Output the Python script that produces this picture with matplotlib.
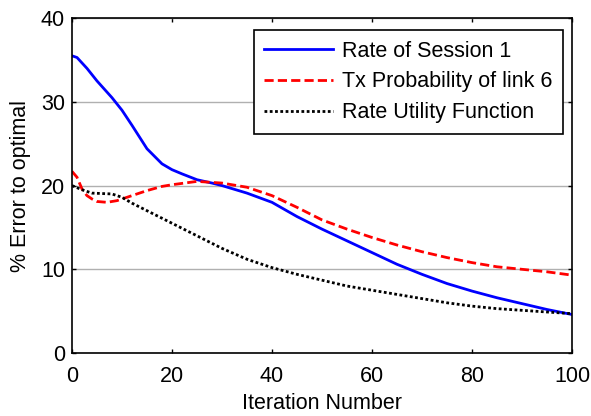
import matplotlib
matplotlib.use("Agg")
import matplotlib.pyplot as plt

plt.rcParams['font.family'] = ['Liberation Sans', 'DejaVu Sans']

blue_x = [0, 1, 3, 5, 8, 10, 12, 15, 18, 20, 22, 25, 28, 30, 35, 40, 45, 50, 55, 60, 65, 70, 75, 80, 85, 90, 95, 100]
blue_y = [35.5, 35.3, 34.0, 32.5, 30.5, 29.0, 27.2, 24.4, 22.6, 21.9, 21.4, 20.7, 20.3, 20.0, 19.1, 18.0, 16.3, 14.8, 13.4, 12.0, 10.6, 9.4, 8.3, 7.4, 6.6, 5.9, 5.2, 4.6]

red_x = [0, 1, 2, 3, 4, 5, 7, 9, 12, 15, 18, 20, 25, 30, 35, 40, 45, 50, 55, 60, 65, 70, 75, 80, 85, 90, 95, 100]
red_y = [21.7, 21.0, 19.6, 18.8, 18.4, 18.1, 18.0, 18.2, 18.8, 19.4, 19.9, 20.1, 20.5, 20.3, 19.8, 18.8, 17.4, 15.9, 14.8, 13.8, 12.9, 12.1, 11.4, 10.8, 10.3, 10.0, 9.7, 9.3]

black_x = [0, 2, 4, 8, 10, 12, 15, 20, 25, 30, 35, 40, 45, 50, 55, 60, 65, 70, 75, 80, 85, 90, 95, 100]
black_y = [20.0, 19.5, 19.1, 19.0, 18.6, 17.9, 17.0, 15.5, 14.0, 12.5, 11.2, 10.2, 9.4, 8.7, 8.0, 7.5, 7.0, 6.5, 6.0, 5.6, 5.3, 5.1, 4.9, 4.7]

labels = ["Rate of Session 1", "Tx Probability of link 6", "Rate Utility Function"]
xticks = [0, 20, 40, 60, 80, 100]
yticks = [0, 10, 20, 30, 40]

FS = 15.5

fig = plt.figure(figsize=(5.91, 4.16), dpi=100)
ax = fig.add_axes([0.1218, 0.1514, 0.846, 0.805])

ax.plot(blue_x, blue_y, color='#0000ff', lw=2.0, ls='-', label=labels[0])
ax.plot(red_x, red_y, color='#ff0000', lw=2.0, ls=(0, (3.3, 1.5)), label=labels[1])
ax.plot(black_x, black_y, color='black', lw=2.0, ls=(0, (1, 0.9)), label=labels[2])

ax.set_xlim(0, 100)
ax.set_ylim(0, 40)
ax.set_xticks(xticks)
ax.set_yticks(yticks)
ax.yaxis.grid(True, color='#b0b0b0', lw=1.0)
ax.set_axisbelow(True)
ax.tick_params(direction='in', top=True, right=True, length=3, labelsize=FS, width=1)
ax.tick_params(axis='x', pad=9)
ax.tick_params(axis='y', pad=5)
for s in ax.spines.values():
    s.set_linewidth(1.2)
    s.set_color('black')

ax.set_xlabel("Iteration Number", fontsize=FS, labelpad=5)
ax.set_ylabel("% Error to optimal", fontsize=FS, labelpad=7)

leg = ax.legend(loc='upper right', bbox_to_anchor=(563 / 591, 1 - 30 / 416),
                bbox_transform=fig.transFigure, fontsize=FS, fancybox=False,
                framealpha=1, edgecolor='black', borderaxespad=0, handlelength=3.2,
                handletextpad=0.4, labelspacing=0.45, borderpad=0.5)
leg.get_frame().set_linewidth(1.2)

fig.savefig("out.png", dpi=100)
